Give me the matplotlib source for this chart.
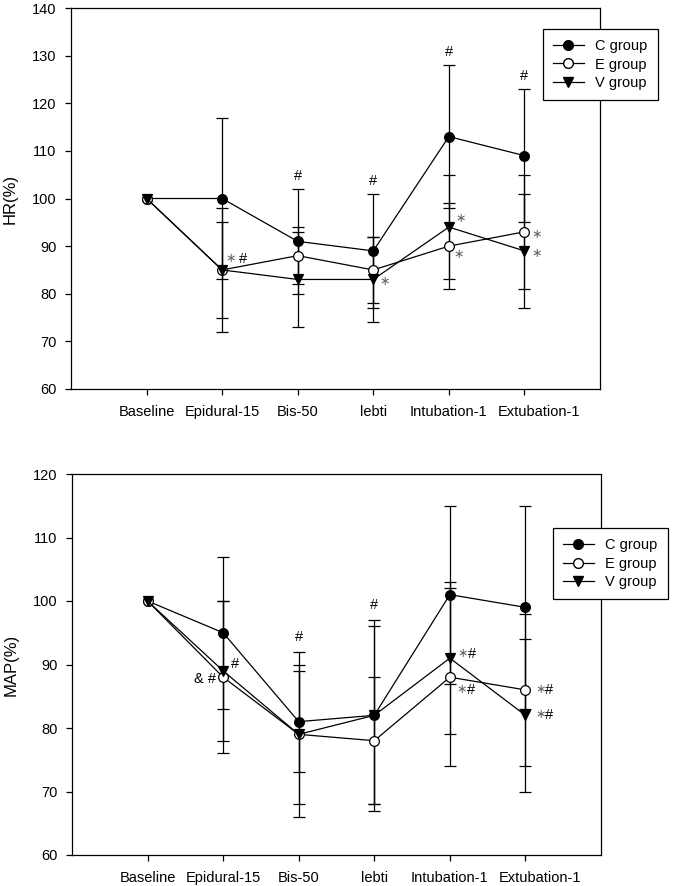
import numpy as np
import matplotlib
matplotlib.use("Agg")
from matplotlib import pyplot as plt
from matplotlib.lines import Line2D
from matplotlib.transforms import ScaledTranslation

plt.rcParams['font.family'] = ['Liberation Sans', 'DejaVu Sans']

times = ['Baseline', 'Epidural-15', 'Bis-50', 'lebti', 'Intubation-1', 'Extubation-1']
groups = ['C group', 'E group', 'V group']

# HR (%) mean and SD
hr_c = [100, 100, 91, 89, 113, 109]
hr_c_sd = [0, 17, 11, 12, 15, 14]
hr_e = [100, 85, 88, 85, 90, 93]
hr_e_sd = [0, 13, 6, 7, 9, 12]
hr_v = [100, 85, 83, 83, 94, 89]
hr_v_sd = [0, 10, 10, 9, 11, 12]

# MAP (%) mean and SD
map_c = [100, 95, 81, 82, 101, 99]
map_c_sd = [0, 12, 8, 15, 14, 16]
map_e = [100, 88, 79, 78, 88, 86]
map_e_sd = [0, 12, 13, 10, 14, 12]
map_v = [100, 89, 79, 82, 91, 82]
map_v_sd = [0, 11, 11, 14, 12, 12]

x = np.arange(len(times))
styles = [dict(marker='o', mfc='k'), dict(marker='o', mfc='white'), dict(marker='v', mfc='k')]

fig = plt.figure(figsize=(6.75, 8.86), dpi=100)
ax1 = fig.add_axes([71 / 675, 1 - 389 / 886, 529 / 675, 381 / 886])
ax2 = fig.add_axes([72 / 675, 1 - 855 / 886, 529 / 675, 381 / 886])


def draw(ax, means, sds, ylim, ylabel):
    for m, s, st in zip(means, sds, styles):
        ax.errorbar(x[1:], m[1:], yerr=s[1:], fmt='none', ecolor='k', elinewidth=0.9,
                    capsize=4, capthick=0.9, zorder=2)
        ax.plot(x, m, color='k', lw=0.9, ms=7, mec='k', mew=0.9, zorder=3, **st)
    ax.set_xlim(-1, 6)
    ax.set_ylim(*ylim)
    ax.set_yticks(np.arange(ylim[0], ylim[1] + 1, 10))
    ax.set_xticks(x)
    ax.set_xticklabels(times)
    ax.tick_params(direction='out', length=4.5, width=0.9, labelsize=10.5)
    ax.tick_params(axis='x', pad=7)
    ax.tick_params(axis='y', pad=6)
    ax.set_ylabel(ylabel, fontsize=12, labelpad=10)
    for sp in ax.spines.values():
        sp.set_linewidth(0.9)
    # last label sits a little right of its tick, as in the original
    lab = ax.get_xticklabels()[-1]
    lab.set_transform(lab.get_transform() + ScaledTranslation(0.15, 0, fig.dpi_scale_trans))


def mark(ax, group, i, text, dx, dy, ha='left'):
    # asterisks are small and grey, # and & black
    if ha == 'right':
        ax.annotate(text, (x[i], group[i]), xytext=(dx, dy), textcoords='offset pixels',
                    ha='right', va='center', fontsize=10.5, color='k')
        return
    gap = 14 if ' ' in text else 10
    parts = text.split() if ' ' in text else list(text)
    for k, p in enumerate(parts):
        star = p == '∗'
        ax.annotate(p, (x[i], group[i]), xytext=(dx + k * gap, dy), textcoords='offset pixels',
                    ha='left', va='center', fontsize=9 if star else 10.5,
                    color='#666666' if star else 'k')


def hashes(ax, means, sds, idx, dy=13):
    for i in idx:
        top = max(m[i] + s[i] for m, s in zip(means, sds))
        ax.annotate('#', (x[i], top), xytext=(0, dy), textcoords='offset pixels',
                    ha='center', va='center', fontsize=10.5)


def legend(ax, anchor):
    handles = [Line2D([], [], color='k', lw=0.9, ms=7, mec='k', **st) for st in styles]
    lg = ax.legend(handles, groups, loc='upper left', bbox_to_anchor=anchor, fontsize=10.5,
                   frameon=True, fancybox=False, framealpha=1, edgecolor='k',
                   borderaxespad=0, handlelength=2.1, handletextpad=0.8,
                   borderpad=0.7, labelspacing=0.3)
    lg.get_frame().set_linewidth(0.9)


draw(ax1, [hr_c, hr_e, hr_v], [hr_c_sd, hr_e_sd, hr_v_sd], (60, 140), 'HR(%)')
hashes(ax1, [hr_c, hr_e, hr_v], [hr_c_sd, hr_e_sd, hr_v_sd], [2, 3, 4, 5])
mark(ax1, hr_e, 1, '∗ #', 3, 11)
mark(ax1, hr_v, 3, '∗', 6, -3)
mark(ax1, hr_v, 4, '∗', 7, 8)
mark(ax1, hr_e, 4, '∗', 5, -9)
mark(ax1, hr_e, 5, '∗', 7, -3)
mark(ax1, hr_v, 5, '∗', 7, -3)
legend(ax1, (0.892, 0.945))

draw(ax2, [map_c, map_e, map_v], [map_c_sd, map_e_sd, map_v_sd], (60, 120), 'MAP(%)')
hashes(ax2, [map_c, map_e, map_v], [map_c_sd, map_e_sd, map_v_sd], [2, 3], dy=15)
mark(ax2, map_e, 1, '& #', -7, -2, ha='right')
mark(ax2, map_v, 1, '#', 8, 7)
mark(ax2, map_v, 4, '∗#', 8, 4)
mark(ax2, map_e, 4, '∗#', 7, -13)
mark(ax2, map_e, 5, '∗#', 10, 0)
mark(ax2, map_v, 5, '∗#', 10, 0)
legend(ax2, (0.909, 0.858))

fig.savefig('out.png', dpi=100)
